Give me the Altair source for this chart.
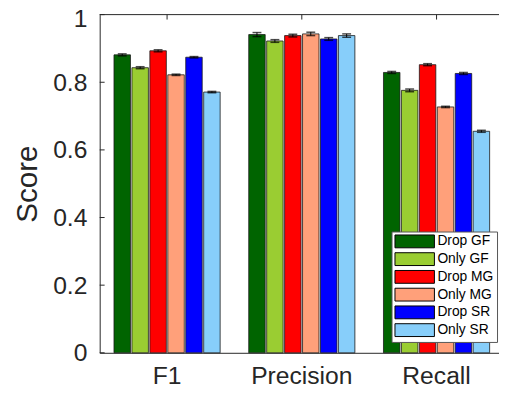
import altair as alt
import pandas as pd

metrics = ["F1", "Precision", "Recall"]
methods = ["Drop GF", "Only GF", "Drop MG", "Only MG", "Drop SR", "Only SR"]
colors = ["#006400", "#9ACD32", "#FF0000", "#FFA07A", "#0000FF", "#87CEFA"]

f1_vals = [0.881, 0.843, 0.893, 0.822, 0.874, 0.771]
precision_vals = [0.941, 0.922, 0.938, 0.943, 0.928, 0.938]
recall_vals = [0.829, 0.776, 0.852, 0.727, 0.826, 0.655]

f1_err = [0.003, 0.003, 0.003, 0.002, 0.002, 0.002]
precision_err = [0.006, 0.004, 0.004, 0.005, 0.004, 0.005]
recall_err = [0.003, 0.004, 0.003, 0.002, 0.003, 0.003]

y_ticks = [0, 0.2, 0.4, 0.6, 0.8, 1.0]

rows = []
for metric, vals, errs in [("F1", f1_vals, f1_err),
                           ("Precision", precision_vals, precision_err),
                           ("Recall", recall_vals, recall_err)]:
    for m, v, e in zip(methods, vals, errs):
        rows.append({"metric": metric, "method": m, "value": v,
                     "lo": v - e, "hi": v + e})
df = pd.DataFrame(rows)
df_yticks = pd.DataFrame({"value": y_ticks})
df_xticks = pd.DataFrame({"metric": metrics})
df_one = pd.DataFrame({"a": [0]})

TXT = "#262626"
FONT = "Liberation Sans"

x_enc = alt.X("metric:N", sort=metrics,
              scale=alt.Scale(domain=metrics, range=[0, 410], paddingInner=0, paddingOuter=0),
              title=None)
xoff = alt.XOffset("method:N", sort=methods,
                   scale=alt.Scale(domain=methods, paddingInner=0.082, paddingOuter=0.797))
y_axis = alt.Axis(values=y_ticks, format="~g", title="Score",
                  labelOffset=alt.condition("datum.value == 1", alt.value(4), alt.value(0)))

bars = alt.Chart(df).mark_bar(stroke="#1a1a1a", strokeWidth=0.8).encode(
    x=x_enc,
    xOffset=xoff,
    y=alt.Y("value:Q", scale=alt.Scale(domain=[0, 1], nice=False), axis=y_axis),
    color=alt.Color("method:N", sort=methods,
                    scale=alt.Scale(domain=methods, range=colors),
                    legend=alt.Legend(orient="none", legendX=296, legendY=220, title=None,
                                      symbolType="M-3.077,-1H3.077V1H-3.077Z", symbolSize=169,
                                      symbolOffset=13.5,
                                      symbolStrokeColor="#000000", symbolStrokeWidth=1,
                                      labelFontSize=14, labelFont=FONT, labelColor="#000000",
                                      labelExpr="datum.label + '\u00a0\u00a0\u00a0'",
                                      labelOffset=16, rowPadding=0, padding=3,
                                      fillColor="white", strokeColor="#555555", cornerRadius=0)),
)

err_rule = alt.Chart(df).mark_rule(color="black", strokeWidth=1).encode(
    x=x_enc, xOffset=xoff,
    y=alt.Y("lo:Q", axis=y_axis), y2="hi:Q",
)
cap_lo = alt.Chart(df).mark_tick(color="black", thickness=1.5, size=9).encode(
    x=x_enc, xOffset=xoff, y=alt.Y("lo:Q", axis=y_axis),
)
cap_hi = alt.Chart(df).mark_tick(color="black", thickness=1.5, size=9).encode(
    x=x_enc, xOffset=xoff, y=alt.Y("hi:Q", axis=y_axis),
)

y_in_ticks = alt.Chart(df_yticks).mark_rule(color=TXT, strokeWidth=1).encode(
    y=alt.Y("value:Q", axis=y_axis), x=alt.value(0), x2=alt.value(5),
)
top_ticks = alt.Chart(df_xticks).mark_rule(color=TXT, strokeWidth=1).encode(
    x=x_enc, y=alt.value(0), y2=alt.value(5),
)
top_line = alt.Chart(df_one).mark_rule(color=TXT, strokeWidth=1).encode(
    x=alt.value(0), x2=alt.value(405), y=alt.value(0),
)

chart = alt.layer(bars, err_rule, cap_lo, cap_hi, y_in_ticks, top_ticks, top_line).properties(
    width=405, height=343,
    autosize=alt.AutoSizeParams(type="none"),
    padding={"left": 93, "top": 4, "right": 0, "bottom": 34},
).configure_view(stroke="transparent").configure_axis(
    labelFont=FONT, titleFont=FONT, labelColor=TXT, titleColor=TXT,
    domainColor=TXT, domainWidth=1, tickSize=0, grid=False,
).configure_axisY(
    labelFontSize=25, titleFontSize=30,
    titleFontWeight="normal", labelPadding=13, titlePadding=10,
).configure_axisX(
    labelAngle=0, labelFontSize=25, labelPadding=11,
)

chart.save("out.html", embed_options={"renderer": "svg", "actions": False})
